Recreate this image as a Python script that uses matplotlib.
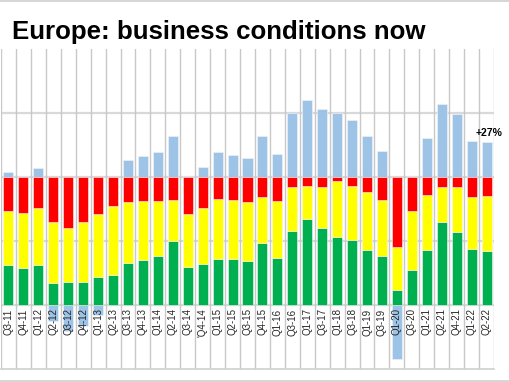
import matplotlib.pyplot as plt
from matplotlib.lines import Line2D
import numpy as np

plt.rcParams['font.family'] = ['Liberation Sans', 'DejaVu Sans']

quarters = ['Q3-11', 'Q4-11', 'Q1-12', 'Q2-12', 'Q3-12', 'Q4-12', 'Q1-13', 'Q2-13',
            'Q3-13', 'Q4-13', 'Q1-14', 'Q2-14', 'Q3-14', "'Q4-14", 'Q1-15', 'Q2-15',
            'Q3-15', 'Q4-15', 'Q1-16', 'Q3-16', 'Q1-17', 'Q3-17', 'Q1-18', 'Q3-18',
            'Q1-19', 'Q3-19', 'Q1-20', 'Q3-20', 'Q1-21', 'Q2-21', 'Q4-21', 'Q1-22', 'Q2-22']

# share of answers in %, stacked to 100
good = [31, 29, 31, 17, 18, 18, 22, 23, 33, 35, 38, 50, 30, 32, 36, 36, 34,
        48, 37, 58, 67, 60, 53, 51, 43, 38, 12, 27, 43, 65, 57, 44, 42]
normal = [42, 43, 45, 48, 42, 47, 49, 54, 47, 46, 43, 32, 41, 44, 47, 46, 46,
          36, 44, 34, 26, 32, 44, 42, 45, 44, 33, 46, 43, 27, 35, 40, 43]
bad = [27, 28, 24, 35, 40, 35, 29, 23, 20, 19, 19, 18, 29, 24, 17, 18, 20,
       16, 19, 8, 7, 8, 3, 7, 12, 18, 55, 27, 14, 8, 8, 16, 15]
# net balance (good - bad)
balance = [4, 1, 7, -12.5, -20, -16.5, -8, 0, 13, 16, 19, 32, 1, 8, 19, 17, 15,
           32, 18, 50, 60, 53, 50, 44, 32, 20, -42, 0.5, 30, 57, 49, 28, 27]

fig = plt.figure(figsize=(5.1, 3.82), dpi=100)
ax = fig.add_axes([1 / 510, 13 / 382, 493 / 510, 320.3 / 382])

x = np.arange(len(quarters))
good = np.array(good)
normal = np.array(normal)
bad = np.array(bad)
balance = np.array(balance)
w = 0.67

# grid
for gy in [0, 50, 100, 150]:
    ax.axhline(gy, color='#d9d9d9', lw=1.6, zorder=0.5)
for gx in np.arange(-0.5, len(quarters), 1):
    ax.axvline(gx, color='#c8c8c8', lw=1.0, zorder=0.5)
ax.axhline(-50, color='#d0d0d0', lw=1.2, zorder=0.5, clip_on=False)

edge = dict(edgecolor='#f4f4f4', linewidth=0.4)
ax.bar(x, good, w, color='#00b050', zorder=2, **edge)
ax.bar(x, normal, w, bottom=good, color='#ffff00', zorder=2, **edge)
ax.bar(x, bad, w, bottom=good + normal, color='#ff0000', zorder=2, **edge)

# positive balance sits on top of the 100% stack, negative hangs below zero
blue_bottom = np.where(balance >= 0, 100, 0)
ax.bar(x, balance, w, bottom=blue_bottom, color='#9dc3e6', zorder=1, clip_on=False, **edge)

ax.annotate(f"+{balance[-1]:.0f}%", (x[-1], 100 + balance[-1]), xytext=(2, 3),
            textcoords='offset points', ha='center', va='bottom',
            fontsize=7.5, fontweight='bold', annotation_clip=False)

ax.set_xlim(-0.5, len(quarters) - 0.5)
ax.set_ylim(-50, 200)
ax.spines['bottom'].set_position(('data', 0))
for s in ax.spines.values():
    s.set_visible(False)
ax.set_xticks(x)
ax.set_xticklabels(quarters, rotation=90, fontsize=7, color='#262626')
ax.tick_params(axis='x', length=0, pad=2.5)
ax.set_yticks([])
for lbl in ax.get_xticklabels():
    lbl.set_zorder(5)

fig.text(12 / 510, 1 - 38.5 / 382, 'Europe: business conditions now',
         fontsize=18.6, fontweight='bold', va='baseline', ha='left')

fig.add_artist(Line2D([0, 1], [1 - 1 / 382] * 2, color='#d0d0d0', lw=1.2))
fig.add_artist(Line2D([0, 1], [1 / 382] * 2, color='#d0d0d0', lw=1.2))

fig.savefig('out.png', dpi=100)
